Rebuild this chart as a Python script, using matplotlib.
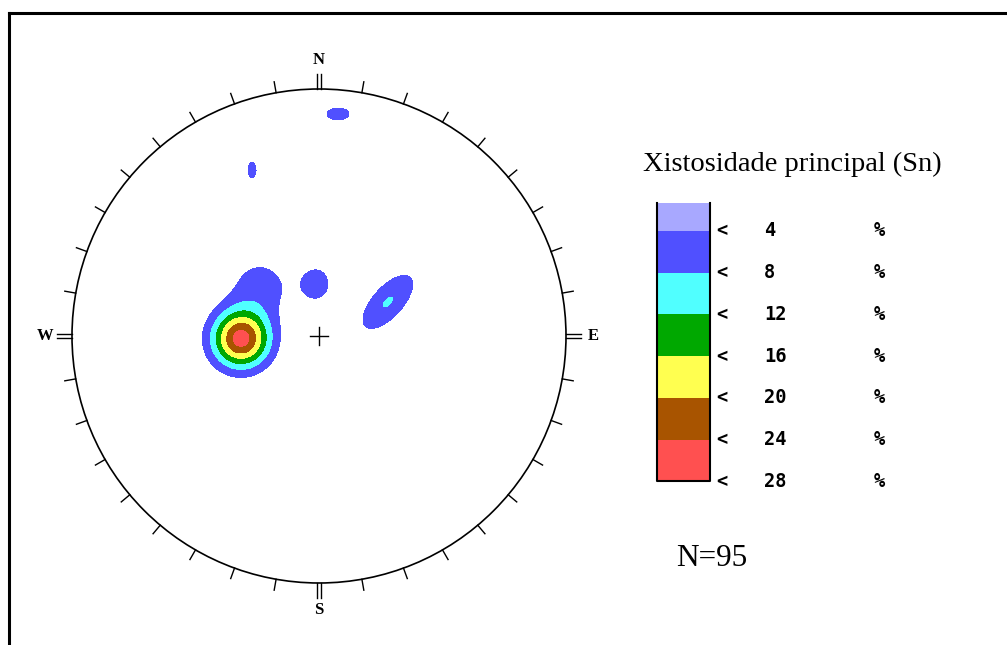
import numpy as np
import matplotlib
matplotlib.use("Agg")
import matplotlib.pyplot as plt
from matplotlib.patches import Circle

# Dados (coordenadas na rede, raio = 1)
blob_x = [-0.316, -0.240, 0.077, -0.271, -0.008, 0.279]
blob_y = [-0.012, 0.200, 0.899, 0.672, 0.211, 0.138]
blob_pico = [25.5, 5.5, 5.0, 5.0, 5.0, 8.2]
blob_sa = [0.081, 0.095, 0.066, 0.024, 0.062, 0.112]
blob_sb = [0.081, 0.095, 0.036, 0.045, 0.075, 0.050]
blob_ang = [0, 0, 0, 0, 0, 48]

niveis = [4, 8, 12, 16, 20, 24, 28]
cores = ["#A8A8FF", "#5050FF", "#50FFFF", "#00A800", "#FFFF50", "#A85400", "#FF5050"]
rotulos = ["4", "8", "12", "16", "20", "24", "28"]
titulo = "Xistosidade principal (Sn)"
n_medidas = 95

W, H = 1007, 645
fig = plt.figure(figsize=(W / 100, H / 100), dpi=100)

# eixo de fundo em pixels (moldura, legenda e textos)
bg = fig.add_axes([0, 0, 1, 1])
bg.set_xlim(0, W)
bg.set_ylim(H, 0)
bg.axis("off")

bg.plot([9, W], [13, 13], color="black", lw=2.2)
bg.plot([9, 9], [13, H], color="black", lw=2.2)

# rede estereografica
cx, cy, R = 319, 336, 247
meia = 280
net = fig.add_axes([(cx - meia) / W, (H - cy - meia) / H, 2 * meia / W, 2 * meia / H])
net.set_xlim(-meia / R, meia / R)
net.set_ylim(-meia / R, meia / R)
net.set_aspect("equal")
net.axis("off")
net.patch.set_alpha(0)

g = np.linspace(-1, 1, 500)
X, Y = np.meshgrid(g, g)
dens = np.zeros_like(X)
for x0, y0, p, sa, sb, a in zip(blob_x, blob_y, blob_pico, blob_sa, blob_sb, blob_ang):
    t = np.radians(a)
    u = (X - x0) * np.cos(t) + (Y - y0) * np.sin(t)
    v = -(X - x0) * np.sin(t) + (Y - y0) * np.cos(t)
    dens += p * np.exp(-0.5 * ((u / sa) ** 2 + (v / sb) ** 2))

cf = net.contourf(X, Y, dens, levels=niveis + [100], colors=cores[1:])
cf.set_clip_path(Circle((0, 0), 1, transform=net.transData))

net.add_patch(Circle((0, 0), 1, fill=False, color="black", lw=1.2))

# marcas a cada 10 graus (duplas nos pontos cardeais)
for az in range(0, 360, 10):
    t = np.radians(az)
    sx, sy = np.sin(t), np.cos(t)
    if az % 90 == 0:
        for d in (-0.008, 0.008):
            ox, oy = d * sy, -d * sx
            net.plot([sx + ox, 1.06 * sx + ox], [sy + oy, 1.06 * sy + oy], color="black", lw=1)
    else:
        net.plot([sx, 1.045 * sx], [sy, 1.045 * sy], color="black", lw=1)

# cruz central
net.plot([-0.036, 0.036], [0, 0], color="black", lw=1)
net.plot([0, 0], [-0.036, 0.036], color="black", lw=1)

fonte_card = dict(family="Liberation Serif", weight="bold", fontsize=12, ha="center", va="center")
net.text(0, 1.117, "N", **fonte_card)
net.text(0, -1.109, "S", **fonte_card)
net.text(-1.109, 0, "W", **fonte_card)
net.text(1.109, 0, "E", **fonte_card)

# legenda
bg.text(792, 164, titulo, family="Liberation Serif", fontsize=20.5, ha="center", va="center")

passo = 41.7
topo = 231 - passo
for i, c in enumerate(cores):
    y0 = topo + i * passo
    y1 = y0 + passo
    if i == 0:
        y0 = 203
    bg.bar(683.5, y1 - y0, bottom=y0, width=53, color=c, edgecolor="none")
base = 231 + 6 * passo
bg.plot([657, 657, 710, 710], [203, base, base, 203], color="black", lw=1.5)

fonte_leg = dict(family="DejaVu Sans Mono", weight="bold", fontsize=13.5, ha="left", va="center")
for i, r in enumerate(rotulos):
    y = 231 + i * passo
    bg.text(716, y, "<", **fonte_leg)
    bg.text(764, y, r, **fonte_leg)
    bg.text(874, y, "%", **fonte_leg)

bg.text(676, 558, f"N={n_medidas}", family="Liberation Serif", fontsize=22.5, ha="left", va="center")

fig.savefig("out.png", dpi=100)
